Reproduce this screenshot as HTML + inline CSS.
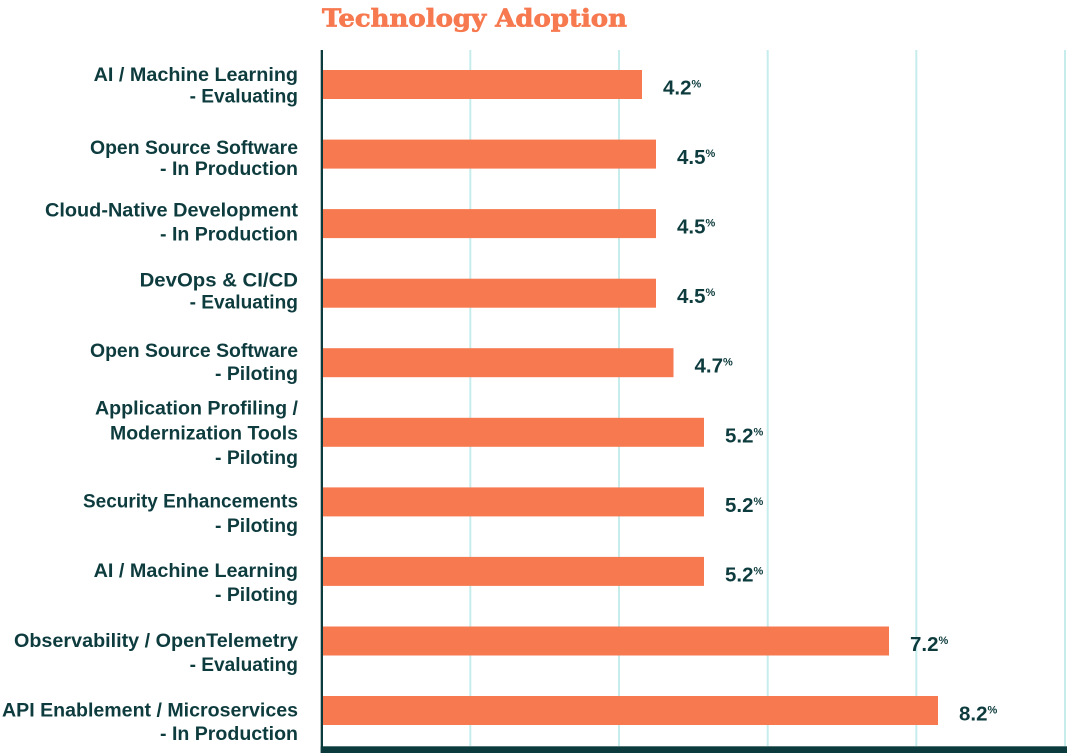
<!DOCTYPE html>
<html>
<head>
<meta charset="utf-8">
<style>
html,body{margin:0;padding:0;background:#fff;}
body{width:1067px;height:753px;overflow:hidden;}
svg{display:block;}
.lab{font-family:"Liberation Sans",sans-serif;font-weight:bold;font-size:19.5px;fill:#0e3c3e;}
.val{font-family:"Liberation Sans",sans-serif;font-weight:bold;font-size:20.5px;fill:#0e3c3e;}
.pct{font-size:11px;}
</style>
</head>
<body>
<svg width="1067" height="753" viewBox="0 0 1067 753" xmlns="http://www.w3.org/2000/svg">
  <!-- title -->
  <text x="322" y="26.7" font-family="DejaVu Serif, Liberation Serif, serif" font-weight="bold" font-size="24" fill="#f7794f" stroke="#f7794f" stroke-width="0.7" textLength="305" lengthAdjust="spacingAndGlyphs">Technology Adoption</text>

  <!-- gridlines -->
  <g stroke="#c6ecec" stroke-width="2">
    <line x1="470.3" y1="50" x2="470.3" y2="746"/>
    <line x1="619" y1="50" x2="619" y2="746"/>
    <line x1="767.7" y1="50" x2="767.7" y2="746"/>
    <line x1="916.3" y1="50" x2="916.3" y2="746"/>
    <line x1="1065" y1="50" x2="1065" y2="746"/>
  </g>

  <!-- bars -->
  <g fill="#f7794f">
    <rect x="323" y="70" width="319" height="29"/>
    <rect x="323" y="139.6" width="333" height="29"/>
    <rect x="323" y="209.1" width="333" height="29"/>
    <rect x="323" y="278.7" width="333" height="29"/>
    <rect x="323" y="348.2" width="350.5" height="29"/>
    <rect x="323" y="417.8" width="381" height="29"/>
    <rect x="323" y="487.4" width="381" height="29"/>
    <rect x="323" y="556.9" width="381" height="29"/>
    <rect x="323" y="626.5" width="566" height="29"/>
    <rect x="323" y="696" width="615" height="29"/>
  </g>

  <!-- axis and bottom band -->
  <rect x="320.7" y="50" width="2.3" height="703" fill="#0c3b3d"/>
  <rect x="320.7" y="746.3" width="746.3" height="6.7" fill="#0c3b3d"/>

  <!-- value labels -->
  <text class="val" x="663" y="94.5">4.2<tspan class="pct" dy="-7">%</tspan></text>
  <text class="val" x="677" y="164.1">4.5<tspan class="pct" dy="-7">%</tspan></text>
  <text class="val" x="677" y="233.6">4.5<tspan class="pct" dy="-7">%</tspan></text>
  <text class="val" x="677" y="303.2">4.5<tspan class="pct" dy="-7">%</tspan></text>
  <text class="val" x="694.5" y="372.7">4.7<tspan class="pct" dy="-7">%</tspan></text>
  <text class="val" x="725" y="442.3">5.2<tspan class="pct" dy="-7">%</tspan></text>
  <text class="val" x="725" y="511.9">5.2<tspan class="pct" dy="-7">%</tspan></text>
  <text class="val" x="725" y="581.4">5.2<tspan class="pct" dy="-7">%</tspan></text>
  <text class="val" x="910" y="651">7.2<tspan class="pct" dy="-7">%</tspan></text>
  <text class="val" x="959" y="720.5">8.2<tspan class="pct" dy="-7">%</tspan></text>

  <!-- category labels -->
  <g class="lab" text-anchor="end">
    <text x="298" y="81" textLength="204.4" lengthAdjust="spacingAndGlyphs">AI / Machine Learning</text>
    <text x="298" y="102.7" textLength="108.4" lengthAdjust="spacingAndGlyphs">- Evaluating</text>

    <text x="298" y="154" textLength="208" lengthAdjust="spacingAndGlyphs">Open Source Software</text>
    <text x="298" y="175" textLength="138" lengthAdjust="spacingAndGlyphs">- In Production</text>

    <text x="298" y="216.5" textLength="253" lengthAdjust="spacingAndGlyphs">Cloud-Native Development</text>
    <text x="298" y="240.5" textLength="138" lengthAdjust="spacingAndGlyphs">- In Production</text>

    <text x="298" y="286.5" textLength="158.4" lengthAdjust="spacingAndGlyphs">DevOps &amp; CI/CD</text>
    <text x="298" y="308.5" textLength="108.4" lengthAdjust="spacingAndGlyphs">- Evaluating</text>

    <text x="298" y="357" textLength="208" lengthAdjust="spacingAndGlyphs">Open Source Software</text>
    <text x="298" y="380" textLength="83" lengthAdjust="spacingAndGlyphs">- Piloting</text>

    <text x="298" y="414.3" textLength="203" lengthAdjust="spacingAndGlyphs">Application Profiling /</text>
    <text x="298" y="439.3" textLength="188" lengthAdjust="spacingAndGlyphs">Modernization Tools</text>
    <text x="298" y="464" textLength="83" lengthAdjust="spacingAndGlyphs">- Piloting</text>

    <text x="298" y="507.7" textLength="215" lengthAdjust="spacingAndGlyphs">Security Enhancements</text>
    <text x="298" y="532.2" textLength="83" lengthAdjust="spacingAndGlyphs">- Piloting</text>

    <text x="298" y="577" textLength="204.4" lengthAdjust="spacingAndGlyphs">AI / Machine Learning</text>
    <text x="298" y="601" textLength="83" lengthAdjust="spacingAndGlyphs">- Piloting</text>

    <text x="298" y="647" textLength="284" lengthAdjust="spacingAndGlyphs">Observability / OpenTelemetry</text>
    <text x="298" y="671" textLength="108.4" lengthAdjust="spacingAndGlyphs">- Evaluating</text>

    <text x="298" y="716.5" textLength="296" lengthAdjust="spacingAndGlyphs">API Enablement / Microservices</text>
    <text x="298" y="740" textLength="138" lengthAdjust="spacingAndGlyphs">- In Production</text>
  </g>
</svg>
</body>
</html>
